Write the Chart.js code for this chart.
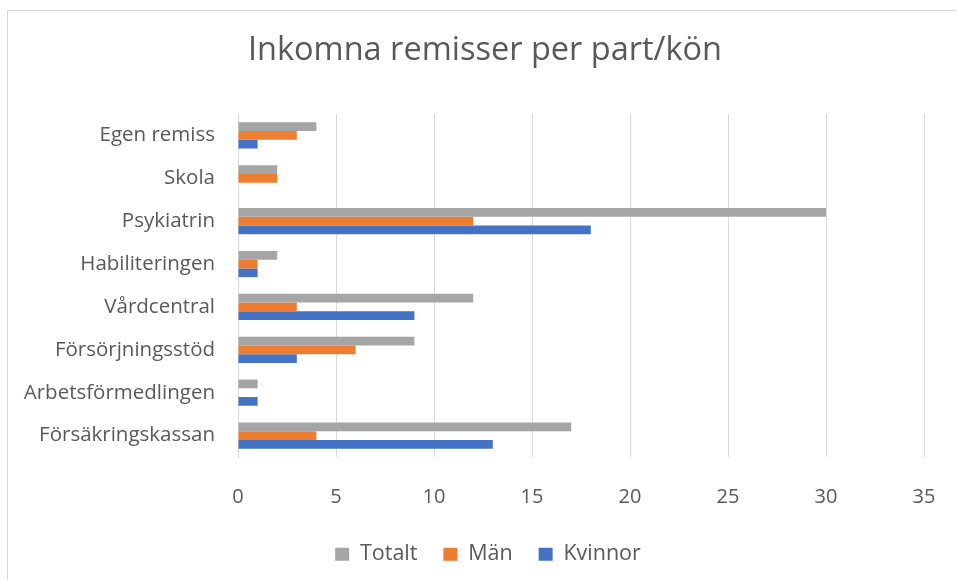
<!DOCTYPE html>
<html>
<head>
<meta charset="utf-8">
<script src="https://cdn.jsdelivr.net/npm/chart.js@4.4.0/dist/chart.umd.min.js"></script>
<style>
  html, body { margin: 0; padding: 0; background: #fff; overflow: hidden; width: 957px; height: 580px; }
  #frame { position: absolute; left: 7px; top: 10px; width: 960px; height: 580px; border: 1px solid #d9d9d9; box-sizing: border-box; }
  #wrap { position: absolute; left: 0; top: 0; width: 957px; height: 580px; }
</style>
</head>
<body>
<div id="frame"></div>
<div id="wrap"><canvas id="remissChart"></canvas></div>
<script>
const categories = ["Egen remiss", "Skola", "Psykiatrin", "Habiliteringen", "Vårdcentral", "Försörjningsstöd", "Arbetsförmedlingen", "Försäkringskassan"];
const totalt = [4, 2, 30, 2, 12, 9, 1, 17];
const man = [3, 2, 12, 1, 3, 6, 0, 4];
const kvinnor = [1, 0, 18, 1, 9, 3, 1, 13];
const xTicks = [0, 5, 10, 15, 20, 25, 30, 35];

const fontFam = "'Open Sans', sans-serif";
const textColor = "#595959";

// flytta rubrik och förklaring lite åt höger, som i Excel
const shiftBlocks = {
  id: 'shiftBlocks',
  afterLayout(chart) {
    chart.titleBlock.left += 23;
    chart.titleBlock.right += 23;
    chart.legend.left += 26;
    chart.legend.right += 26;
  }
};

var ctx = document.getElementById("remissChart").getContext('2d');
var myChart = new Chart(ctx, {
  type: 'bar',
  data: {
    labels: categories,
    datasets: [
      { label: "Totalt", data: totalt, backgroundColor: "#a5a5a5" },
      { label: "Män", data: man, backgroundColor: "#ed7d31" },
      { label: "Kvinnor", data: kvinnor, backgroundColor: "#4472c4" }
    ]
  },
  plugins: [shiftBlocks],
  options: {
    indexAxis: 'y',
    responsive: true,
    maintainAspectRatio: false,
    animation: false,
    datasets: {
      bar: { categoryPercentage: 0.61, barPercentage: 1.0, borderWidth: 0 }
    },
    layout: { padding: { left: 0, right: 33, top: 0, bottom: 5 } },
    scales: {
      x: {
        min: 0,
        max: 35,
        afterBuildTicks: function(scale) {
          scale.ticks = xTicks.map(v => ({ value: v }));
        },
        afterFit: function(scale) { scale.height = 60.5; },
        grid: { color: "#d9d9d9", lineWidth: 1, drawTicks: true, tickLength: 20, tickColor: "rgba(0,0,0,0)" },
        border: { display: false },
        ticks: { color: textColor, padding: 8.5, font: { family: fontFam, size: 20 } }
      },
      y: {
        afterFit: function(scale) { scale.width = 238; },
        grid: { display: false, drawTicks: false },
        border: { display: true, color: "#d9d9d9" },
        ticks: { color: textColor, padding: 23, font: { family: fontFam, size: 20.5 } }
      }
    },
    plugins: {
      title: {
        display: true,
        text: "Inkomna remisser per part/kön",
        color: textColor,
        font: { family: fontFam, size: 32.5, weight: 'normal' },
        padding: { top: 31, bottom: 44 }
      },
      legend: {
        display: true,
        position: 'bottom',
        labels: {
          color: textColor,
          boxWidth: 14,
          boxHeight: 13,
          padding: 26,
          font: { family: fontFam, size: 21.5 }
        }
      },
      tooltip: { enabled: false }
    }
  }
});
</script>
</body>
</html>
